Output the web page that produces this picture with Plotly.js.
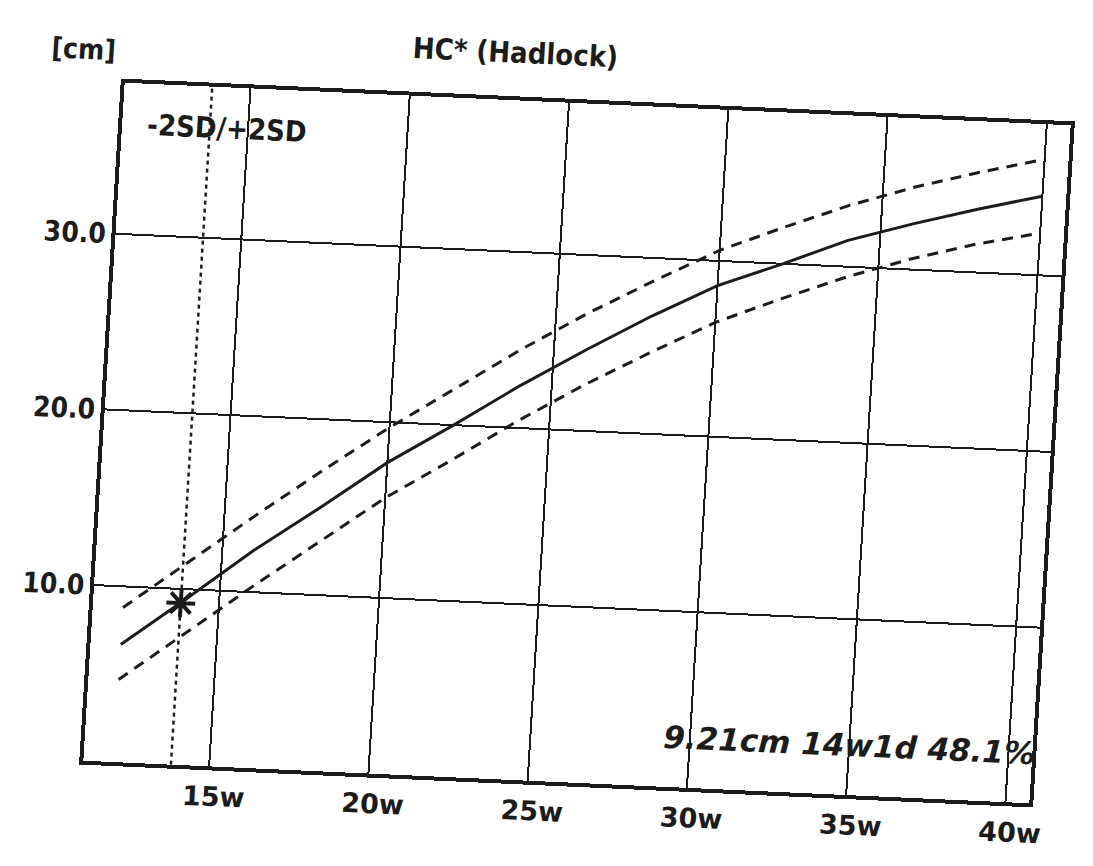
<!DOCTYPE html>
<html>
<head>
<meta charset="utf-8">
<script src="https://cdn.plot.ly/plotly-3.0.1.min.js"></script>
<style>
  html, body { margin: 0; padding: 0; background: #ffffff; overflow: hidden; }
  #plot { width: 1093px; height: 866px; transform-origin: 577px 443px; transform: matrix(1, 0.045, -0.061, 1, 0, 0); }
</style>
</head>
<body>
<div id="plot"></div>
<script>
// ---- data ----
const weeks    = [12, 14, 16, 18, 20, 22, 24, 26, 28, 30, 32, 34, 36, 38, 40];
const meanHC   = [6.7, 9.5, 12.4, 15.0, 17.7, 20.0, 22.4, 24.6, 26.7, 28.6, 30.0, 31.5, 32.6, 33.6, 34.5];
const plus2SD  = [8.8, 11.6, 14.4, 17.1, 19.7, 22.1, 24.5, 26.7, 28.7, 30.6, 32.1, 33.5, 34.7, 35.7, 36.6];
const minus2SD = [4.7, 7.5, 10.3, 13.0, 15.7, 18.0, 20.4, 22.6, 24.6, 26.5, 28.0, 29.4, 30.6, 31.6, 32.4];
const measWeek = [13.8];
const measHC   = [9.2];
const xTickVals = [15, 20, 25, 30, 35, 40];
const xTickText = ["15w", "20w", "25w", "30w", "35w", "40w"];
const yTickVals = [10, 20, 30];
const yTickText = ["10.0", "20.0", "30.0"];
const titleText = "HC* (Hadlock)";
const unitText = "[cm]";
const bandText = "-2SD/+2SD";
const measText = "9.21cm 14w1d 48.1%";

const ink = "#1c1c1c";
const FONTC = "DejaVu Sans Condensed, DejaVu Sans, sans-serif";
const FONT = "DejaVu Sans, sans-serif";

const traces = [
  { x: weeks, y: plus2SD, mode: "lines", line: { color: ink, width: 3, dash: "11px,8px" }, hoverinfo: "skip" },
  { x: weeks, y: minus2SD, mode: "lines", line: { color: ink, width: 3, dash: "11px,8px" }, hoverinfo: "skip" },
  { x: weeks, y: meanHC, mode: "lines", line: { color: ink, width: 3 }, hoverinfo: "skip" },
  { x: measWeek, y: measHC, mode: "markers",
    marker: { symbol: "asterisk-open", size: 24, color: ink, line: { color: ink, width: 4 } }, hoverinfo: "skip" }
];

const layout = {
  width: 1093, height: 866,
  margin: { l: 104, r: 43, t: 104, b: 84 },
  paper_bgcolor: "#ffffff", plot_bgcolor: "#ffffff",
  showlegend: false,
  font: { family: FONT, color: ink, size: 26 },
  title: { text: titleText, font: { family: FONTC, size: 29, weight: "bold", color: ink },
           xref: "paper", x: 0.41, xanchor: "center", y: 0.935, yanchor: "middle" },
  xaxis: {
    range: [11.05, 40.75], tickvals: xTickVals, ticktext: xTickText,
    showgrid: true, gridcolor: ink, gridwidth: 2, zeroline: false,
    showline: true, linecolor: ink, linewidth: 4, mirror: true,
    ticks: "", ticklabelstandoff: 3, ticklabelshift: 6,
    tickfont: { family: FONT, size: 27, weight: "bold", color: ink }
  },
  yaxis: {
    range: [0, 38.6], tickvals: yTickVals, ticktext: yTickText,
    showgrid: true, gridcolor: ink, gridwidth: 2, zeroline: false,
    showline: true, linecolor: ink, linewidth: 4, mirror: true,
    ticks: "", ticklabelstandoff: 0, tickfont: { family: FONTC, size: 28, weight: "bold", color: ink }
  },
  shapes: [
    { type: "line", xref: "x", yref: "paper", x0: measWeek[0], x1: measWeek[0], y0: 0, y1: 1,
      line: { color: ink, width: 2.5, dash: "4px,4px" }, layer: "above" }
  ],
  annotations: [
    { text: "<b>" + unitText + "</b>", xref: "paper", yref: "paper", x: -0.045, y: 1.047, xanchor: "center", yanchor: "middle",
      showarrow: false, font: { family: FONTC, size: 28, color: ink } },
    { text: "<b>" + bandText + "</b>", xref: "paper", yref: "paper", x: 0.024, y: 0.94, xanchor: "left", yanchor: "middle",
      showarrow: false, font: { family: FONTC, size: 29, color: ink } },
    { text: "<b><i>" + measText + "</i></b>", xref: "paper", yref: "paper", x: 1.005, y: 0.074, xanchor: "right", yanchor: "middle",
      showarrow: false, font: { family: FONT, size: 31, color: ink } }
  ]
};

Plotly.newPlot("plot", traces, layout, { staticPlot: true, displayModeBar: false });
</script>
</body>
</html>
